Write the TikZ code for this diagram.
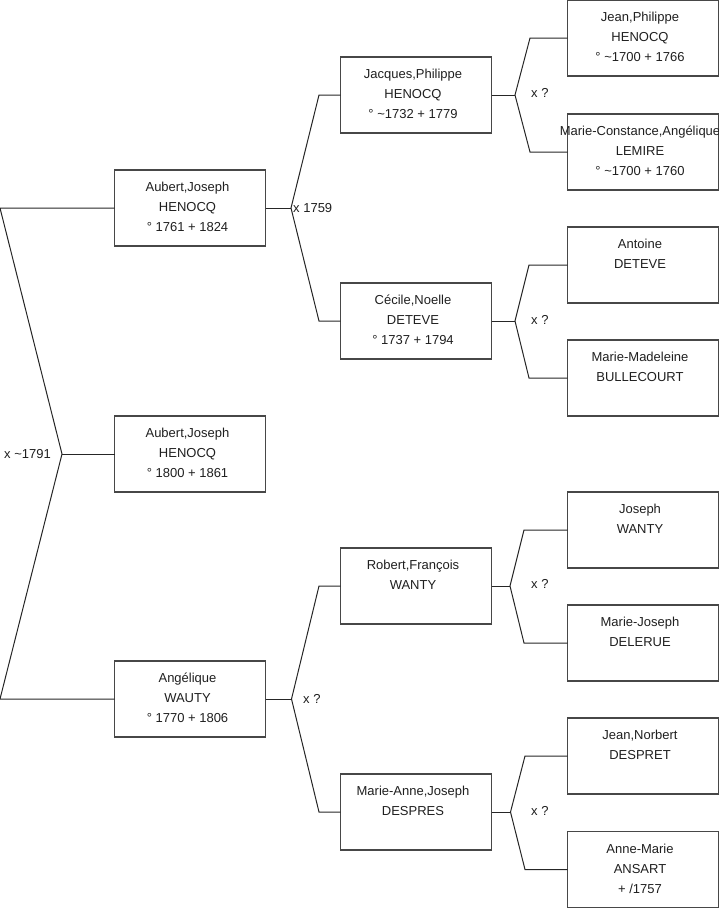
\documentclass[tikz,border=0pt]{standalone}
\usepackage{fontspec}
\setmainfont{Liberation Sans}
\begin{document}
\begin{tikzpicture}[x=1pt,y=-1pt,
  person/.style={draw=black!72,line width=1.1pt,minimum width=151pt,minimum height=76pt,inner sep=0pt,outer sep=0pt},
  ptext/.style={anchor=north,inner sep=0pt,align=center,text=black!88,font=\fontsize{13}{20}\selectfont},
  link/.style={draw=black!85,line width=1pt},
  lbl/.style={anchor=base west,inner sep=0pt,text=black!88,font=\fontsize{13}{16}\selectfont}]
\useasboundingbox (0,0) rectangle (719,908);
\newcommand{\firstline}{\rule{0pt}{10pt}}
% level 1
\node[person] (a1) at (190,208) {};
\node[person] (a2) at (190,454) {};
\node[person] (a3) at (190,699) {};
% level 2
\node[person] (b1) at (416,95) {};
\node[person] (b2) at (416,321) {};
\node[person] (b3) at (416,586) {};
\node[person] (b4) at (416,812) {};
% level 3
\node[person] (c1) at (643,38) {};
\node[person] (c2) at (643,152) {};
\node[person] (c3) at (643,265) {};
\node[person] (c4) at (643,378) {};
\node[person] (c5) at (643,530) {};
\node[person] (c6) at (643,643) {};
\node[person] (c7) at (643,756) {};
\node[person] (c8) at (643,869.5) {};
% texts
\node[ptext] (ta1) at ([xshift=-2.5pt,yshift=-11.5pt]a1.north) {\firstline Aubert,Joseph\\HENOCQ\\° 1761 + 1824};
\node[ptext] (ta2) at ([xshift=-2.5pt,yshift=-11.5pt]a2.north) {\firstline Aubert,Joseph\\HENOCQ\\° 1800 + 1861};
\node[ptext] (ta3) at ([xshift=-2.5pt,yshift=-11.5pt]a3.north) {\firstline Angélique\\WAUTY\\° 1770 + 1806};
\node[ptext] (tb1) at ([xshift=-3pt,yshift=-11.5pt]b1.north) {\firstline Jacques,Philippe\\HENOCQ\\° \char`\~1732 + 1779};
\node[ptext] (tb2) at ([xshift=-3pt,yshift=-11.5pt]b2.north) {\firstline Cécile,Noelle\\DETEVE\\° 1737 + 1794};
\node[ptext] (tb3) at ([xshift=-3pt,yshift=-11.5pt]b3.north) {\firstline Robert,François\\WANTY};
\node[ptext] (tb4) at ([xshift=-3pt,yshift=-11.5pt]b4.north) {\firstline Marie-Anne,Joseph\\DESPRES};
\node[ptext] (tc1) at ([xshift=-3pt,yshift=-11.5pt]c1.north) {\firstline Jean,Philippe\\HENOCQ\\° \char`\~1700 + 1766};
\node[ptext] (tc2) at ([xshift=-3pt,yshift=-11.5pt]c2.north) {\firstline Marie-Constance,Angélique\\LEMIRE\\° \char`\~1700 + 1760};
\node[ptext] (tc3) at ([xshift=-3pt,yshift=-11.5pt]c3.north) {\firstline Antoine\\DETEVE};
\node[ptext] (tc4) at ([xshift=-3pt,yshift=-11.5pt]c4.north) {\firstline Marie-Madeleine\\BULLECOURT};
\node[ptext] (tc5) at ([xshift=-3pt,yshift=-11.5pt]c5.north) {\firstline Joseph\\WANTY};
\node[ptext] (tc6) at ([xshift=-3pt,yshift=-11.5pt]c6.north) {\firstline Marie-Joseph\\DELERUE};
\node[ptext] (tc7) at ([xshift=-3pt,yshift=-11.5pt]c7.north) {\firstline Jean,Norbert\\DESPRET};
\node[ptext] (tc8) at ([xshift=-3pt,yshift=-11.5pt]c8.north) {\firstline Anne-Marie\\ANSART\\+ /1757\hspace{10pt}};
% left fork
\coordinate (e0a) at (0,208);
\coordinate (e0b) at (0,699);
\coordinate (f0) at (62,454);
\draw[link] (a1.west) -- (e0a) -- (f0) -- (e0b) -- (a3.west);
\draw[link] (f0) -- (a2.west);
\node[lbl] (l0) at (4,458) {x \char`\~1791};
% level 2 forks
\coordinate (f1) at (291,208);
\coordinate (f1a) at (319,95);
\coordinate (f1b) at (319,321);
\draw[link] (a1.east) -- (f1);
\draw[link] (b1.west) -- (f1a) -- (f1) -- (f1b) -- (b2.west);
\node[lbl] (l1) at (293,212.5) {x 1759};
\coordinate (f2) at (291.5,699);
\coordinate (f2a) at (319,586);
\coordinate (f2b) at (319,812);
\draw[link] (a3.east) -- (f2);
\draw[link] (b3.west) -- (f2a) -- (f2) -- (f2b) -- (b4.west);
\node[lbl] (l2) at (303,703.5) {x ?};
% level 3 forks
\coordinate (f3) at (515,95);
\coordinate (f3a) at (530,38);
\coordinate (f3b) at (530,152);
\draw[link] (b1.east) -- (f3);
\draw[link] (c1.west) -- (f3a) -- (f3) -- (f3b) -- (c2.west);
\node[lbl] (l3) at (531,97.5) {x ?};
\coordinate (f4) at (515,321);
\coordinate (f4a) at (529,265);
\coordinate (f4b) at (529,378);
\draw[link] (b2.east) -- (f4);
\draw[link] (c3.west) -- (f4a) -- (f4) -- (f4b) -- (c4.west);
\node[lbl] (l4) at (531,324) {x ?};
\coordinate (f5) at (510,586);
\coordinate (f5a) at (524,530);
\coordinate (f5b) at (524,643);
\draw[link] (b3.east) -- (f5);
\draw[link] (c5.west) -- (f5a) -- (f5) -- (f5b) -- (c6.west);
\node[lbl] (l5) at (531,588.5) {x ?};
\coordinate (f6) at (510.5,812);
\coordinate (f6a) at (525,756);
\coordinate (f6b) at (525,869.5);
\draw[link] (b4.east) -- (f6);
\draw[link] (c7.west) -- (f6a) -- (f6) -- (f6b) -- (c8.west);
\node[lbl] (l6) at (531,815) {x ?};
\end{tikzpicture}
\end{document}
